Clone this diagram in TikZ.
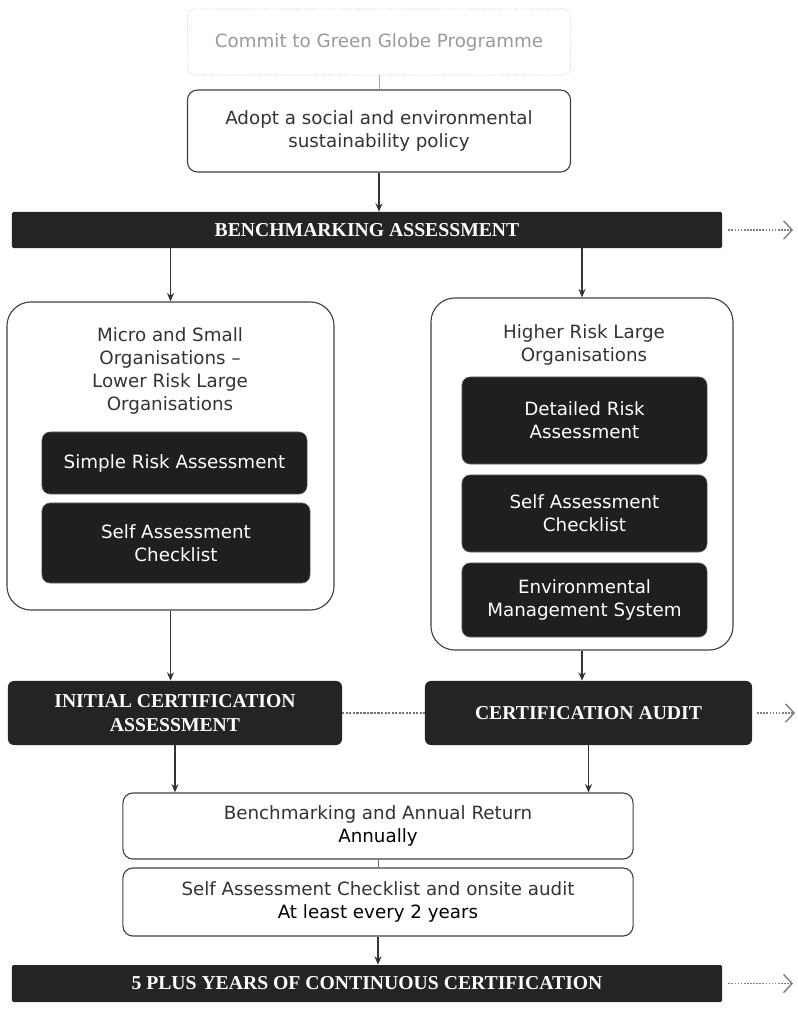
\documentclass[tikz,border=0pt]{standalone}
\usepackage{fontspec}
\setmainfont{DejaVu Sans}
\newfontfamily\headfont{Liberation Serif}
\usetikzlibrary{arrows.meta}

\begin{document}
\begin{tikzpicture}[x=0.025cm, y=-0.025cm,
    every node/.style={font=\fontsize{13}{16.5}\selectfont, text=black!80},
    plainbox/.style={draw=black!75, line width=0.8pt, rounded corners=0.25cm, align=center, inner sep=0pt},
    faintbox/.style={draw=black!30, densely dotted, rounded corners=0.2cm, text=black!40, inner sep=0pt},
    groupbox/.style={draw=black!75, line width=0.8pt, rounded corners=0.6cm, inner sep=0pt},
    darkbox/.style={fill=black!88, draw=black!60, rounded corners=0.2cm, text=white, align=center, inner sep=0pt},
    headbar/.style={fill=black!86, text=white, align=center, inner sep=0pt, rounded corners=1pt,
        font=\headfont\bfseries\fontsize{14}{17}\selectfont},
    flow/.style={draw=black!80, line width=0.8pt, -{Stealth[length=6pt,width=5pt]}},
    outarrow/.style={draw=black!50, densely dotted, line width=1.2pt, -{Straight Barb[length=6pt,width=13pt,line width=1pt]}}]
    \useasboundingbox (0,0) rectangle (797,1023);

    \node[faintbox, minimum width=9.575cm, minimum height=1.65cm] (commit) at (379,42) {Commit to Green Globe Programme};
    \node[plainbox, minimum width=9.575cm, minimum height=2.05cm] (adopt) at (379,131) {Adopt a social and environmental\\sustainability policy};
    \node[headbar, minimum width=17.75cm, minimum height=0.9cm] (bench) at (367,230) {BENCHMARKING ASSESSMENT};
    \coordinate (benchout) at (793,230);

    % left column
    \node[groupbox, minimum width=8.175cm, minimum height=7.7cm] (small) at (170.5,456) {};
    \node[align=center] (smalltitle) at (170,371) {Micro and Small\\Organisations \textendash\\Lower Risk Large\\Organisations};
    \node[darkbox, minimum width=6.625cm, minimum height=1.55cm] (simplerisk) at (174.5,463) {Simple Risk Assessment};
    \node[darkbox, minimum width=6.7cm, minimum height=2cm] (smallcheck) at (176,543) {Self Assessment\\Checklist};

    % right column
    \node[groupbox, minimum width=7.55cm, minimum height=8.8cm] (large) at (582,474) {};
    \node[align=center] (largetitle) at (584,345) {Higher Risk Large\\Organisations};
    \node[darkbox, minimum width=6.125cm, minimum height=2.175cm] (detailrisk) at (584.5,420.5) {Detailed Risk\\Assessment};
    \node[darkbox, minimum width=6.125cm, minimum height=1.925cm] (largecheck) at (584.5,513.5) {Self Assessment\\Checklist};
    \node[darkbox, minimum width=6.125cm, minimum height=1.85cm] (ems) at (584.5,600) {Environmental\\Management System};

    \node[headbar, rounded corners=0.15cm, minimum width=8.35cm, minimum height=1.6cm] (initial) at (175,713) {INITIAL CERTIFICATION\\ASSESSMENT};
    \node[headbar, rounded corners=0.15cm, minimum width=8.175cm, minimum height=1.6cm] (audit) at (588.5,713) {CERTIFICATION AUDIT};
    \coordinate (auditout) at (795,713);

    \node[plainbox, minimum width=12.75cm, minimum height=1.65cm] (annual) at (378,826) {Benchmarking and Annual Return\\\textcolor{black}{Annually}};
    \node[plainbox, minimum width=12.75cm, minimum height=1.7cm] (onsite) at (378,902) {Self Assessment Checklist and onsite audit\\\textcolor{black}{At least every 2 years}};
    \node[headbar, minimum width=17.75cm, minimum height=0.925cm] (continuous) at (367,983.5) {5 PLUS YEARS OF CONTINUOUS CERTIFICATION};
    \coordinate (contout) at (793,983.5);

    \draw[black!35] (commit) -- (adopt);
    \draw[flow] (adopt) -- (adopt.south |- bench.north);
    \draw[flow] (small.north |- bench.south) -- (small.north);
    \draw[flow] (large.north |- bench.south) -- (large.north);
    \draw[flow] (small.south) -- (small.south |- initial.north);
    \draw[flow] (large.south) -- (large.south |- audit.north);
    \draw[black!55, densely dotted, line width=1.5pt] (initial) -- (audit);
    \draw[flow] (initial.south) -- (initial.south |- annual.north);
    \draw[flow] (audit.south) -- (audit.south |- annual.north);
    \draw[black!60] (annual) -- (onsite);
    \draw[flow] (onsite) -- (onsite.south |- continuous.north);
    \draw[outarrow] ([xshift=0.15cm]bench.east) -- (benchout);
    \draw[outarrow] ([xshift=0.12cm]audit.east) -- (auditout);
    \draw[outarrow] ([xshift=0.15cm]continuous.east) -- (contout);
\end{tikzpicture}
\end{document}
